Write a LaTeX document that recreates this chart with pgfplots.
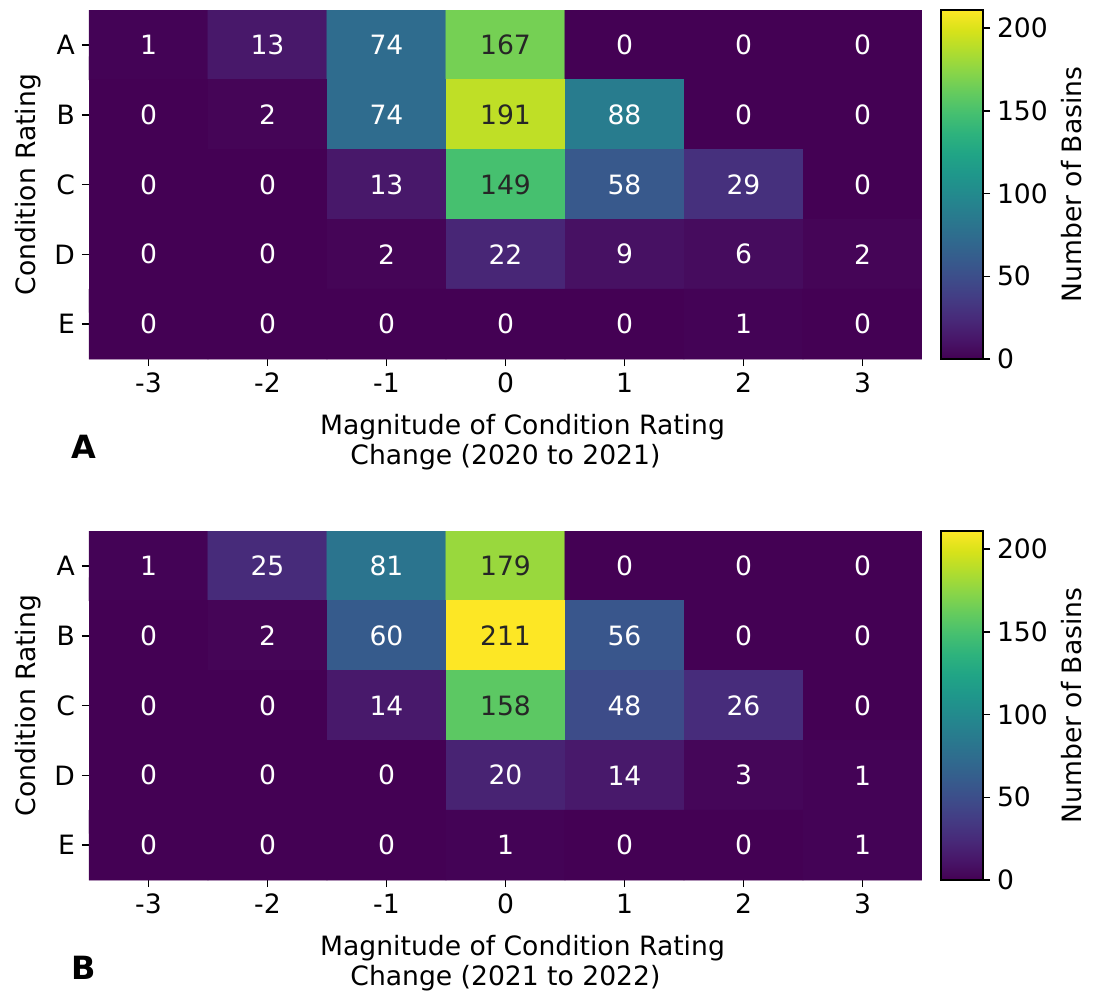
\documentclass[border=0pt]{standalone}
\usepackage{pgfplots}
\pgfplotsset{compat=1.18}
\usepackage{pgfplotstable}
\usepgfplotslibrary{colormaps}
\usepackage{fontspec}
\setmainfont{DejaVu Sans}
\definecolor{darktext}{HTML}{262626}

\pgfplotstableread{
x y c
-3 0 1
-2 0 13
-1 0 74
0 0 167
1 0 0
2 0 0
3 0 0
-3 1 0
-2 1 2
-1 1 74
0 1 191
1 1 88
2 1 0
3 1 0
-3 2 0
-2 2 0
-1 2 13
0 2 149
1 2 58
2 2 29
3 2 0
-3 3 0
-2 3 0
-1 3 2
0 3 22
1 3 9
2 3 6
3 3 2
-3 4 0
-2 4 0
-1 4 0
0 4 0
1 4 0
2 4 1
3 4 0
}\dataA

\pgfplotstableread{
x y c
-3 0 1
-2 0 25
-1 0 81
0 0 179
1 0 0
2 0 0
3 0 0
-3 1 0
-2 1 2
-1 1 60
0 1 211
1 1 56
2 1 0
3 1 0
-3 2 0
-2 2 0
-1 2 14
0 2 158
1 2 48
2 2 26
3 2 0
-3 3 0
-2 3 0
-1 3 0
0 3 20
1 3 14
2 3 3
3 3 1
-3 4 0
-2 4 0
-1 4 0
0 4 1
1 4 0
2 4 0
3 4 1
}\dataB

% colour scale of the colour bars (0 to 211)
\pgfplotstableread{
x y
0 0
1 0
0 25
1 25
0 50
1 50
0 75
1 75
0 100
1 100
0 125
1 125
0 150
1 150
0 175
1 175
0 200
1 200
0 211
1 211
}\cbscale

\newcommand{\basefont}{\fontsize{13.3}{15}\selectfont}

\pgfplotsset{
  /pgf/number format/assume math mode=true,
  heat/.style={
    scale only axis, width=416.5pt, height=174.5pt,
    xmin=-3.5, xmax=3.5, ymin=-0.5, ymax=4.5, y dir=reverse,
    enlargelimits=false,
    xtick={-3,-2,-1,0,1,2,3}, xticklabels={-3,-2,-1,0,1,2,3},
    ytick={0,1,2,3,4}, yticklabels={A,B,C,D,E},
    xtick pos=left, ytick pos=left, tick align=outside,
    major tick length=3.5pt,
    tick style={black, line width=0.8pt},
    axis line style={draw=none},
    colormap/viridis, point meta min=0, point meta max=211,
    font=\basefont,
    ylabel={Condition Rating},
    xlabel style={align=center, yshift=-3.5pt},
  },
  cbar/.style={
    scale only axis, width=21pt, height=174.5pt,
    xmin=0, xmax=1, ymin=0, ymax=211, enlargelimits=false,
    xtick=\empty, ytick={0,50,100,150,200},
    ytick pos=right, yticklabel pos=right,
    tick align=outside, major tick length=3.5pt,
    ytick style={black, line width=0.8pt},
    axis line style={draw=black, line width=0.7pt},
    axis on top,
    colormap/viridis, point meta min=0, point meta max=211,
    font=\basefont,
    ylabel={Number of Basins},
  },
  annot/.style={
    draw=none, mark=none, point meta=explicit symbolic,
    nodes near coords={\ifnum\pgfplotspointmeta>120 \color{darktext}\fi\pgfplotspointmeta},
    every node near coord/.append style={anchor=center, text=white, font=\basefont},
  },
}

\begin{document}
\begin{tikzpicture}
\begin{axis}[heat, name=top, at={(0,0)}, anchor=north west,
  xlabel={\hspace*{17pt}Magnitude of Condition Rating\\Change (2020 to 2021)}]
  \addplot[matrix plot*, mesh/cols=7, point meta=explicit] table[x=x, y=y, meta=c] {\dataA};
  \addplot[annot] table[x=x, y=y, meta=c] {\dataA};
\end{axis}
\begin{axis}[cbar, at={(426pt,0)}, anchor=north west]
  \addplot[surf, shader=interp, mesh/cols=2, point meta=y] table[x=x, y=y] {\cbscale};
\end{axis}
\begin{axis}[heat, name=bot, at={(0,-260.5pt)}, anchor=north west,
  xlabel={\hspace*{17pt}Magnitude of Condition Rating\\Change (2021 to 2022)}]
  \addplot[matrix plot*, mesh/cols=7, point meta=explicit] table[x=x, y=y, meta=c] {\dataB};
  \addplot[annot] table[x=x, y=y, meta=c] {\dataB};
\end{axis}
\begin{axis}[cbar, at={(426pt,-260.5pt)}, anchor=north west]
  \addplot[surf, shader=interp, mesh/cols=2, point meta=y] table[x=x, y=y] {\cbscale};
\end{axis}
\node[font=\fontsize{16}{19}\selectfont\bfseries, anchor=center] at ([xshift=-2.5pt, yshift=-44pt]top.south west) {A};
\node[font=\fontsize{16}{19}\selectfont\bfseries, anchor=center] at ([xshift=-2.5pt, yshift=-44pt]bot.south west) {B};
\path (-44.5pt,5pt) rectangle (502.5pt,-493pt);
\end{tikzpicture}
\end{document}
